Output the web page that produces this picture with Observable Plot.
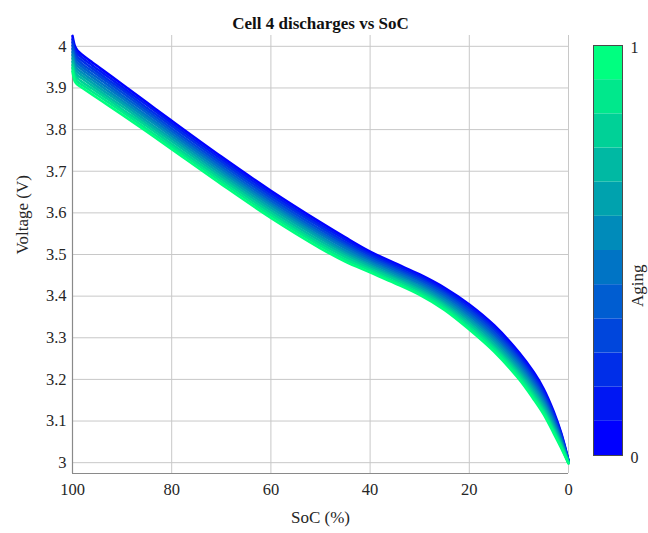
<!DOCTYPE html>
<html><head><meta charset="utf-8">
<script src="https://cdn.jsdelivr.net/npm/d3@7"></script>
<script src="https://cdn.jsdelivr.net/npm/@observablehq/plot@0.6"></script>
<style>
html,body{margin:0;padding:0;background:#fff;}
#wrap{position:relative;width:648px;height:533px;overflow:hidden;}
#wrap svg{position:absolute;top:0;}
</style></head><body><div id="wrap"></div>
<script>
// ---- data ----
const titleText = "Cell 4 discharges vs SoC";
const xLabel = "SoC (%)";
const yLabel = "Voltage (V)";
const colorbarLabel = "Aging";
const soc = [100, 99.5, 99, 98, 96, 93, 90, 85, 80, 70, 60, 50, 45, 40, 35, 30, 25, 20, 15, 10, 7, 5, 3, 1.5, 0];
const agingLevels = [0, 0.091, 0.182, 0.273, 0.364, 0.455, 0.545, 0.636, 0.727, 0.818, 0.909, 1];
const curve0  = [4.025, 4.000, 3.990, 3.979, 3.961, 3.935, 3.909, 3.865, 3.821, 3.735, 3.653, 3.577, 3.541, 3.507, 3.479, 3.452, 3.420, 3.380, 3.330, 3.265, 3.217, 3.177, 3.123, 3.072, 3.005];
const curve1  = [4.017, 3.992, 3.983, 3.972, 3.954, 3.928, 3.902, 3.859, 3.815, 3.729, 3.647, 3.571, 3.536, 3.502, 3.475, 3.448, 3.415, 3.375, 3.324, 3.259, 3.211, 3.171, 3.118, 3.069, 3.004];
const curve2  = [4.010, 3.985, 3.975, 3.965, 3.947, 3.921, 3.896, 3.852, 3.809, 3.723, 3.641, 3.566, 3.530, 3.498, 3.470, 3.443, 3.410, 3.369, 3.319, 3.253, 3.205, 3.166, 3.114, 3.065, 3.004];
const curve3  = [4.002, 3.977, 3.968, 3.957, 3.940, 3.915, 3.889, 3.846, 3.802, 3.717, 3.635, 3.560, 3.525, 3.493, 3.466, 3.439, 3.406, 3.364, 3.313, 3.248, 3.199, 3.160, 3.109, 3.062, 3.003];
const curve4  = [3.994, 3.969, 3.960, 3.950, 3.933, 3.908, 3.882, 3.840, 3.796, 3.711, 3.629, 3.554, 3.520, 3.489, 3.462, 3.434, 3.401, 3.358, 3.307, 3.242, 3.193, 3.155, 3.104, 3.059, 3.002];
const curve5  = [3.986, 3.961, 3.953, 3.943, 3.926, 3.901, 3.876, 3.833, 3.790, 3.705, 3.623, 3.549, 3.515, 3.484, 3.457, 3.430, 3.396, 3.353, 3.301, 3.236, 3.187, 3.149, 3.099, 3.056, 3.002];
const curve6  = [3.979, 3.954, 3.945, 3.936, 3.919, 3.894, 3.869, 3.827, 3.784, 3.699, 3.618, 3.543, 3.509, 3.480, 3.453, 3.425, 3.391, 3.347, 3.296, 3.230, 3.182, 3.144, 3.095, 3.052, 3.001];
const curve7  = [3.971, 3.946, 3.938, 3.929, 3.912, 3.887, 3.863, 3.820, 3.778, 3.693, 3.612, 3.538, 3.504, 3.475, 3.448, 3.421, 3.386, 3.342, 3.290, 3.224, 3.176, 3.138, 3.090, 3.049, 3.001];
const curve8  = [3.963, 3.938, 3.930, 3.922, 3.905, 3.880, 3.856, 3.814, 3.772, 3.687, 3.606, 3.532, 3.499, 3.471, 3.444, 3.416, 3.381, 3.336, 3.284, 3.218, 3.170, 3.133, 3.085, 3.046, 3.000];
const curve9  = [3.955, 3.930, 3.923, 3.914, 3.898, 3.874, 3.849, 3.808, 3.765, 3.681, 3.600, 3.526, 3.494, 3.466, 3.440, 3.412, 3.377, 3.331, 3.278, 3.213, 3.164, 3.127, 3.080, 3.043, 2.999];
const curve10 = [3.948, 3.923, 3.915, 3.907, 3.891, 3.867, 3.843, 3.801, 3.759, 3.675, 3.594, 3.521, 3.488, 3.462, 3.435, 3.407, 3.372, 3.325, 3.273, 3.207, 3.158, 3.122, 3.076, 3.039, 2.999];
const curve11 = [3.940, 3.915, 3.908, 3.900, 3.884, 3.860, 3.836, 3.795, 3.753, 3.669, 3.588, 3.515, 3.483, 3.457, 3.431, 3.403, 3.367, 3.320, 3.267, 3.201, 3.152, 3.116, 3.071, 3.036, 2.998];
const xTicks = [100, 80, 60, 40, 20, 0];
const xTickLabels = ["100", "80", "60", "40", "20", "0"];
const yTicks = [3, 3.1, 3.2, 3.3, 3.4, 3.5, 3.6, 3.7, 3.8, 3.9, 4];
const yTickLabels = ["3", "3.1", "3.2", "3.3", "3.4", "3.5", "3.6", "3.7", "3.8", "3.9", "4"];
const colorbarTicks = [0, 1];
const colorbarTickLabels = ["0", "1"];
const xDomain = [100, 0];
const yDomain = [2.974, 4.026];

// ---- build ----
const curves = [curve0, curve1, curve2, curve3, curve4, curve5, curve6, curve7, curve8, curve9, curve10, curve11];
const rows = curves.flatMap((c, i) => c.map((v, j) => ({soc: soc[j], v, aging: agingLevels[i], id: i})));
const colorScale = {type: "linear", domain: [0, 1], range: ["#0000ff", "#00ff80"], interpolate: "rgb"};
const FONT = "'Liberation Serif', 'Times New Roman', serif";
const TXT = "#262626";

const main = Plot.plot({
  width: 648, height: 533,
  marginLeft: 72, marginRight: 80, marginTop: 35, marginBottom: 60,
  style: {fontFamily: FONT, fontSize: "16.5px", color: TXT, background: "transparent", overflow: "visible"},
  x: {domain: xDomain, axis: null},
  y: {domain: yDomain, axis: null},
  color: colorScale,
  marks: [
    Plot.ruleY(yTicks, {stroke: "#c8c8c8", strokeWidth: 1}),
    Plot.ruleX(xTicks, {stroke: "#c8c8c8", strokeWidth: 1}),
    Plot.ruleX([xDomain[0]], {stroke: "#8a8a8a", strokeWidth: 1.2}),
    Plot.ruleY([yDomain[0]], {stroke: "#8a8a8a", strokeWidth: 1.2}),
    Plot.line(rows, {x: "soc", y: "v", z: "id", stroke: "aging", strokeWidth: 2.6, curve: "catmull-rom"}),
    Plot.text(yTicks, {y: d => d, text: (d, i) => yTickLabels[i], frameAnchor: "left", dx: -6, textAnchor: "end", fill: TXT}),
    Plot.text(xTicks, {x: d => d, text: (d, i) => xTickLabels[i], frameAnchor: "bottom", dy: 21, fill: TXT}),
    Plot.text([xLabel], {text: d => d, frameAnchor: "bottom", dy: 49, fontSize: 17, fill: TXT}),
    Plot.text([yLabel], {text: d => d, frameAnchor: "left", dx: -50, rotate: -90, fontSize: 17, fill: TXT}),
    Plot.text([titleText], {text: d => d, frameAnchor: "top", dy: -19, fontSize: 17, fontWeight: "bold", fill: "#111"})
  ]
});
main.style.left = "0px";
document.getElementById("wrap").appendChild(main);

const bands = agingLevels.map((a, i) => ({lo: i / agingLevels.length, hi: (i + 1) / agingLevels.length, aging: a}));
const cbar = Plot.plot({
  width: 63, height: 533,
  marginLeft: 8, marginRight: 26, marginTop: 45, marginBottom: 78,
  style: {fontFamily: FONT, fontSize: "16px", color: TXT, background: "transparent", overflow: "visible"},
  y: {domain: [0, 1], axis: null},
  color: colorScale,
  marks: [
    Plot.rect(bands, {y1: "lo", y2: "hi", fill: "aging"}),
    Plot.frame({stroke: "#4a4a4a", strokeWidth: 1}),
    Plot.text(colorbarTicks, {y: d => d, text: (d, i) => colorbarTickLabels[i], frameAnchor: "right", dx: 8, dy: 2, textAnchor: "start", fill: TXT}),
    Plot.text([colorbarLabel], {text: d => d, frameAnchor: "right", dx: 15, dy: 14, rotate: -90, fontSize: 17, fill: TXT})
  ]
});
cbar.style.left = "585px";
document.getElementById("wrap").appendChild(cbar);
</script>
</body></html>
